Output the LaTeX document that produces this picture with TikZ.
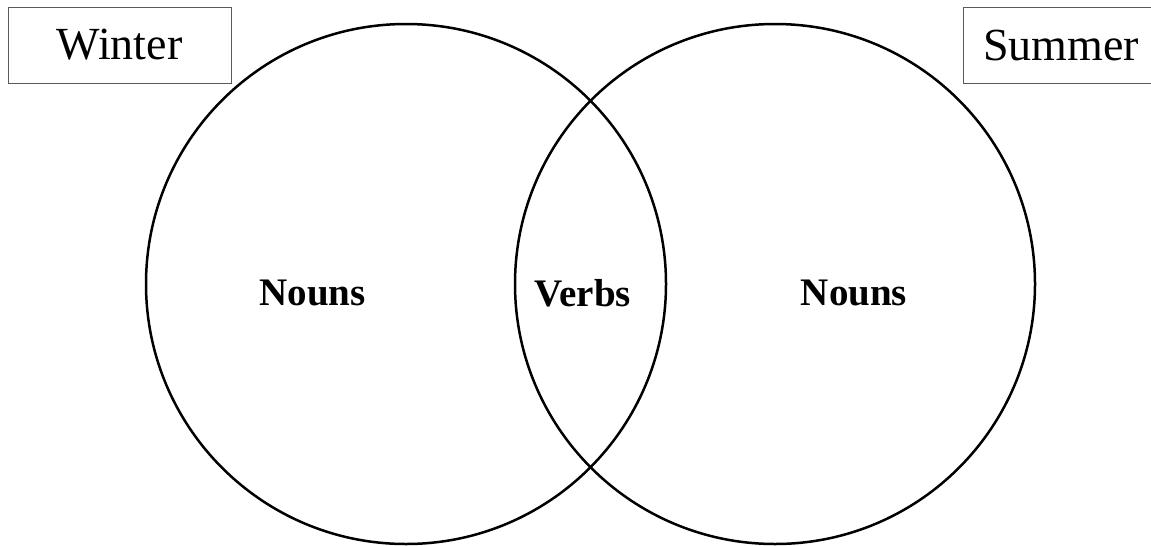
\documentclass[tikz,border=0pt]{standalone}
\usepackage{fontspec}
\setmainfont{Liberation Serif}
\tikzset{
	seasonbox/.style={draw=gray!70!black, line width=0.9pt, inner sep=0pt, minimum height=76pt, font=\fontsize{46}{55}\selectfont},
	wordset/.style={circle, draw, line width=2.5pt, inner sep=0pt, minimum size=520pt},
	wordlabel/.style={font=\fontsize{39}{47}\selectfont\bfseries}
}
\begin{document}
\begin{tikzpicture}[x=1pt,y=-1pt]
		\useasboundingbox[fill=white] (0,0) rectangle (1151,546);
		\begin{scope}
		\clip (0,0) rectangle (1151,546);
		% the two overlapping sets
		\node[wordset] (winterset) at (406,284) {};
		\node[wordset] (summerset) at (775,284) {};
		% labels inside the sets
		\node[wordlabel] (winternouns) at (312.5,293) {Nouns};
		\node[wordlabel] (sharedverbs) at (583,293) {Verbs};
		\node[wordlabel] (summernouns) at (854,293) {Nouns};
		% season titles
		\node[seasonbox, minimum width=223pt] (winter) at (119.5,45) {Winter};
		\node[seasonbox, minimum width=196pt] (summer) at (1061,45) {Summer};
		\end{scope}
		\end{tikzpicture}
\end{document}
